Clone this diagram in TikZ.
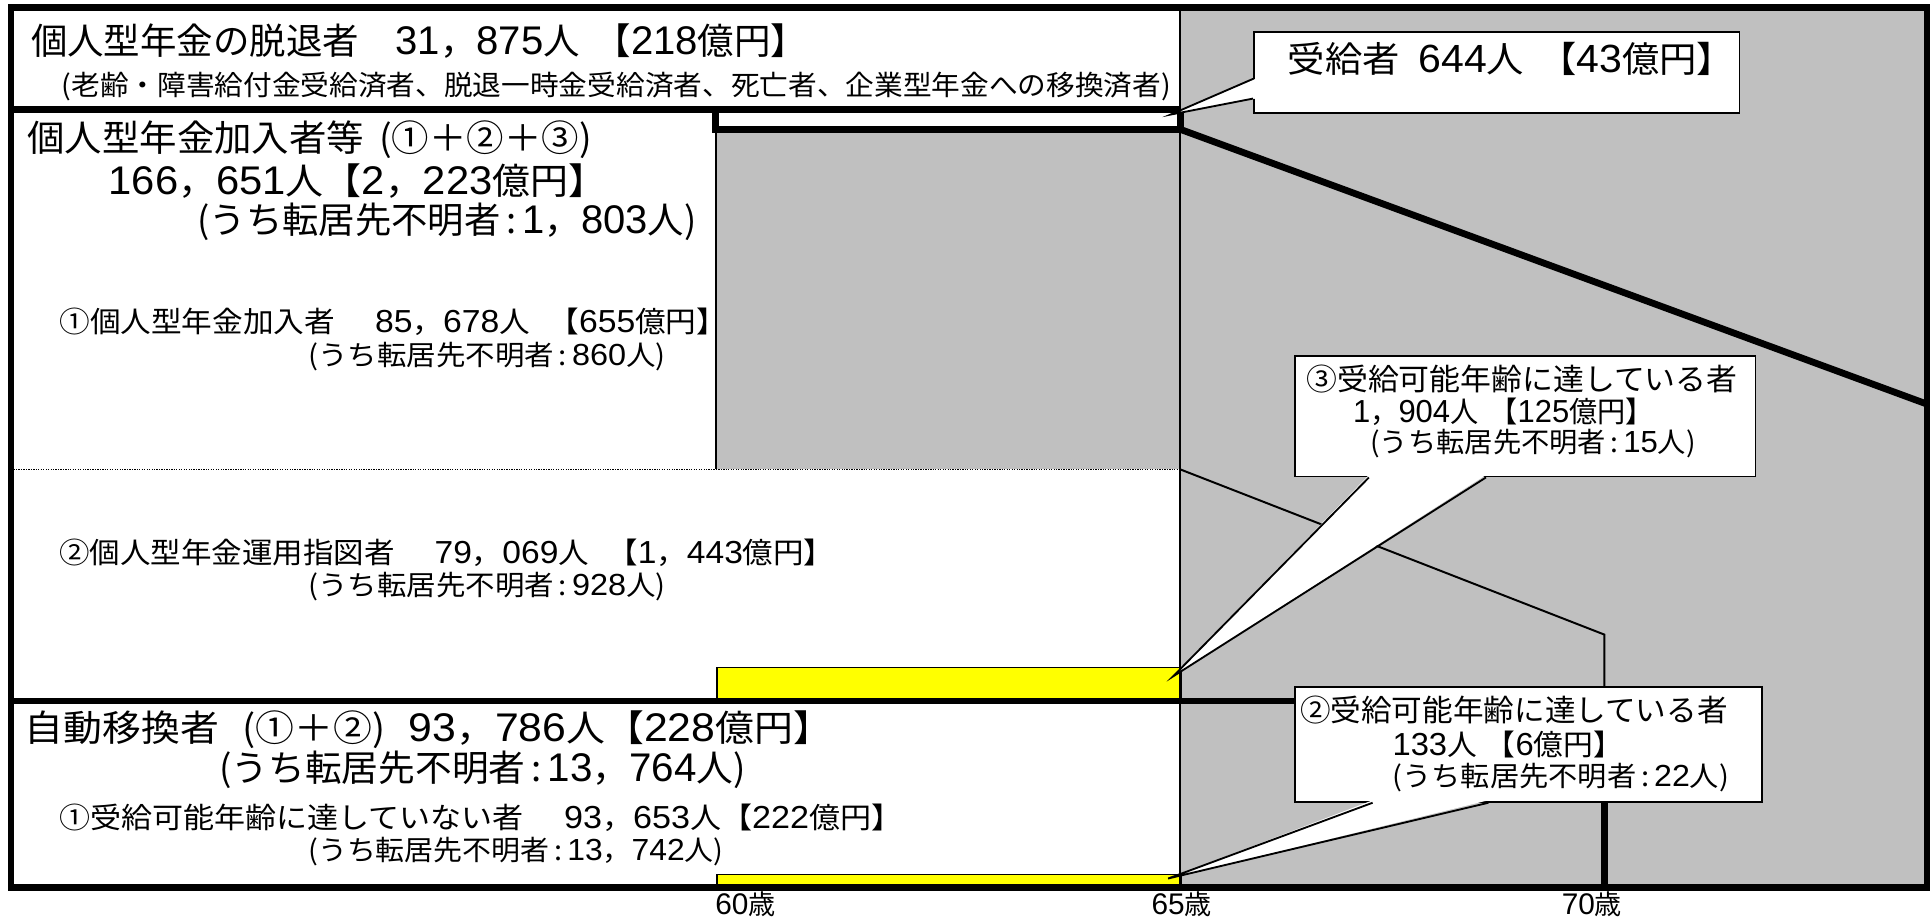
\documentclass[tikz,border=0pt]{standalone}
\usepackage{fontspec}
\usepackage{graphicx}
\setmainfont{Noto Sans CJK JP}
\newfontfamily\dgf{Liberation Sans}[Scale=1.1]
\newcommand{\dnum}[1]{{\dgf #1}}
\newcommand{\fitto}[2]{\resizebox{#1pt}{\height}{#2}}
\usetikzlibrary{calc}
\definecolor{bgg}{RGB}{192,192,192}
\definecolor{ylw}{RGB}{255,255,0}
\tikzset{
  heavy/.style={line width=5.5pt},
  lite/.style={line width=1.6pt},
  txt/.style={inner sep=0pt, anchor=west},
  fA/.style={txt, font=\fontsize{29.5}{34}\selectfont},
  fB/.style={txt, font=\fontsize{23.5}{28}\selectfont},
  fC/.style={txt, font=\fontsize{22.5}{26}\selectfont},
  fD/.style={inner sep=0pt, anchor=center, font=\fontsize{22}{25}\selectfont},
  cbox/.style={draw, fill=white, line width=1.5pt, inner sep=0pt, anchor=north west},
  ybar/.style={draw, fill=ylw, line width=1.5pt, inner sep=0pt, anchor=north west},
  ptr/.style={line width=1.5pt, line join=miter},
}
\begin{document}
\begin{tikzpicture}[x=1pt,y=-1pt]
\useasboundingbox (0,0) rectangle (1568,746);
\fill[white] (0,0) rectangle (1568,746);
% grey areas
\fill[bgg] (958,6) -- (1564,6) -- (1564,720) -- (958,720) -- cycle;
\fill[bgg] (581,105) rectangle (958,381);
% yellow bars
\node[ybar, minimum width=377pt, minimum height=28pt] (bar1) at (581,541) {};
\node[ybar, minimum width=377pt, minimum height=12pt] (bar2) at (581,709) {};
% thin lines
\draw[lite] (958,6) -- (958,720);
\draw[lite] (581,105) -- (581,381);
\draw[line width=1.5pt, dash pattern=on 1pt off 1pt] (9,381) -- (958,381);
\draw[lite] (958,381) -- (1302,515) -- (1302,569);
% thick lines
\draw[heavy] (9,89) -- (958,89);
\draw[heavy, line join=miter] (581,89) -- (581,105) -- (958,105) -- (958,89);
\draw[heavy] (958,105) -- (1564,328);
\draw[heavy] (9,569) -- (1302,569) -- (1302,720);
% frame
\draw[heavy] (9,6) rectangle (1564,720);

% callout A
\node[cbox, minimum width=394pt, minimum height=66pt] (cA) at (1017,25) {};
\coordinate (tA) at (950,93);
\fill[white] ($(cA.north west)+(2,39)$) -- (tA) -- ($(cA.north west)+(2,55)$) -- cycle;
\draw[ptr] ($(cA.north west)+(0,39)$) -- (tA) -- ($(cA.north west)+(0,55)$);
\node[txt, font=\fontsize{29}{34}\selectfont] (cAt) at (1045,48) {\fitto{362}{受給者\hspace{.5em}\dnum{644}人\hspace{.4em}【\dnum{43}億円】}};

% callout 3
\node[cbox, minimum width=374pt, minimum height=98pt] (c3) at (1050,288) {};
\coordinate (t3) at (952,549);
\fill[white] ($(c3.south west)+(61,-2)$) -- (t3) -- ($(c3.south west)+(156,-2)$) -- cycle;
\draw[ptr] ($(c3.south west)+(61,0)$) -- (t3) -- ($(c3.south west)+(156,0)$);
\node[txt, font=\fontsize{24.5}{28}\selectfont] (c3a) at (1060,308) {\fitto{350}{③受給可能年齢に達している者}};
\node[fB] (c3b) at (1098,334) {\fitto{244}{\dnum{1}，\dnum{904}人\hspace{.4em}【\dnum{125}億円】}};
\node[fC] (c3c) at (1112,360) {\fitto{264}{(うち転居先不明者\,:\,\dnum{15}人)}};

% callout 2
\node[cbox, minimum width=379pt, minimum height=93pt] (c2) at (1050,557) {};
\coordinate (t2) at (948,713);
\fill[white] ($(c2.south west)+(64,-2)$) -- (t2) -- ($(c2.south west)+(158,-2)$) -- cycle;
\draw[ptr] ($(c2.south west)+(64,0)$) -- (t2) -- ($(c2.south west)+(158,0)$);
\node[txt, font=\fontsize{24.5}{28}\selectfont] (c2a) at (1055,576) {\fitto{347}{②受給可能年齢に達している者}};
\node[fB] (c2b) at (1130,604) {\fitto{187}{\dnum{133}人\hspace{.3em}【\dnum{6}億円】}};
\node[fC] (c2c) at (1130,631) {\fitto{273}{(うち転居先不明者\,:\,\dnum{22}人)}};

% texts
\node[fA] (h1) at (25,33) {\fitto{630}{個人型年金の脱退者\hspace{1em}\dnum{31}，\dnum{875}人\hspace{.4em}【\dnum{218}億円】}};
\node[txt, font=\fontsize{22.5}{26}\selectfont] (h2) at (50,70) {\fitto{900}{(老齢・障害給付金受給済者、脱退一時金受給済者、死亡者、企業型年金への移換済者)}};
\node[fA] (k1) at (22,113) {\fitto{458}{個人型年金加入者等\hspace{.4em}(①＋②＋③)}};
\node[fA] (k2) at (88,147) {\fitto{404}{\dnum{166}，\dnum{651}人【\dnum{2}，\dnum{223}億円】}};
\node[fA] (k3) at (160,180) {\fitto{405}{(うち転居先不明者\,:\,\dnum{1}，\dnum{803}人)}};
\node[fB] (m1) at (48,261) {\fitto{542}{①個人型年金加入者\hspace{1.3em}\dnum{85}，\dnum{678}人\hspace{.6em}【\dnum{655}億円】}};
\node[fC] (m2) at (250,289) {\fitto{290}{(うち転居先不明者\,:\,\dnum{860}人)}};
\node[fB] (u1) at (48,449) {\fitto{629}{②個人型年金運用指図者\hspace{1.3em}\dnum{79}，\dnum{069}人\hspace{.6em}【\dnum{1}，\dnum{443}億円】}};
\node[fC] (u2) at (250,476) {\fitto{290}{(うち転居先不明者\,:\,\dnum{928}人)}};
\node[fA] (j1) at (20,592) {\fitto{655}{自動移換者\hspace{.6em}(①＋②)\hspace{.6em}\dnum{93}，\dnum{786}人【\dnum{228}億円】}};
\node[fA] (j2) at (178,625) {\fitto{427}{(うち転居先不明者\,:\,\dnum{13}，\dnum{764}人)}};
\node[fB] (j3) at (48,664) {\fitto{684}{①受給可能年齢に達していない者\hspace{1.3em}\dnum{93}，\dnum{653}人【\dnum{222}億円】}};
\node[fC] (j4) at (250,691) {\fitto{337}{(うち転居先不明者\,:\,\dnum{13}，\dnum{742}人)}};
% age labels
\node[fD] (a60) at (605,733.5) {\dnum{60}歳};
\node[fD] (a65) at (959,733.5) {\dnum{65}歳};
\node[fD] (a70) at (1292,733.5) {\dnum{70}歳};
\end{tikzpicture}
\end{document}
